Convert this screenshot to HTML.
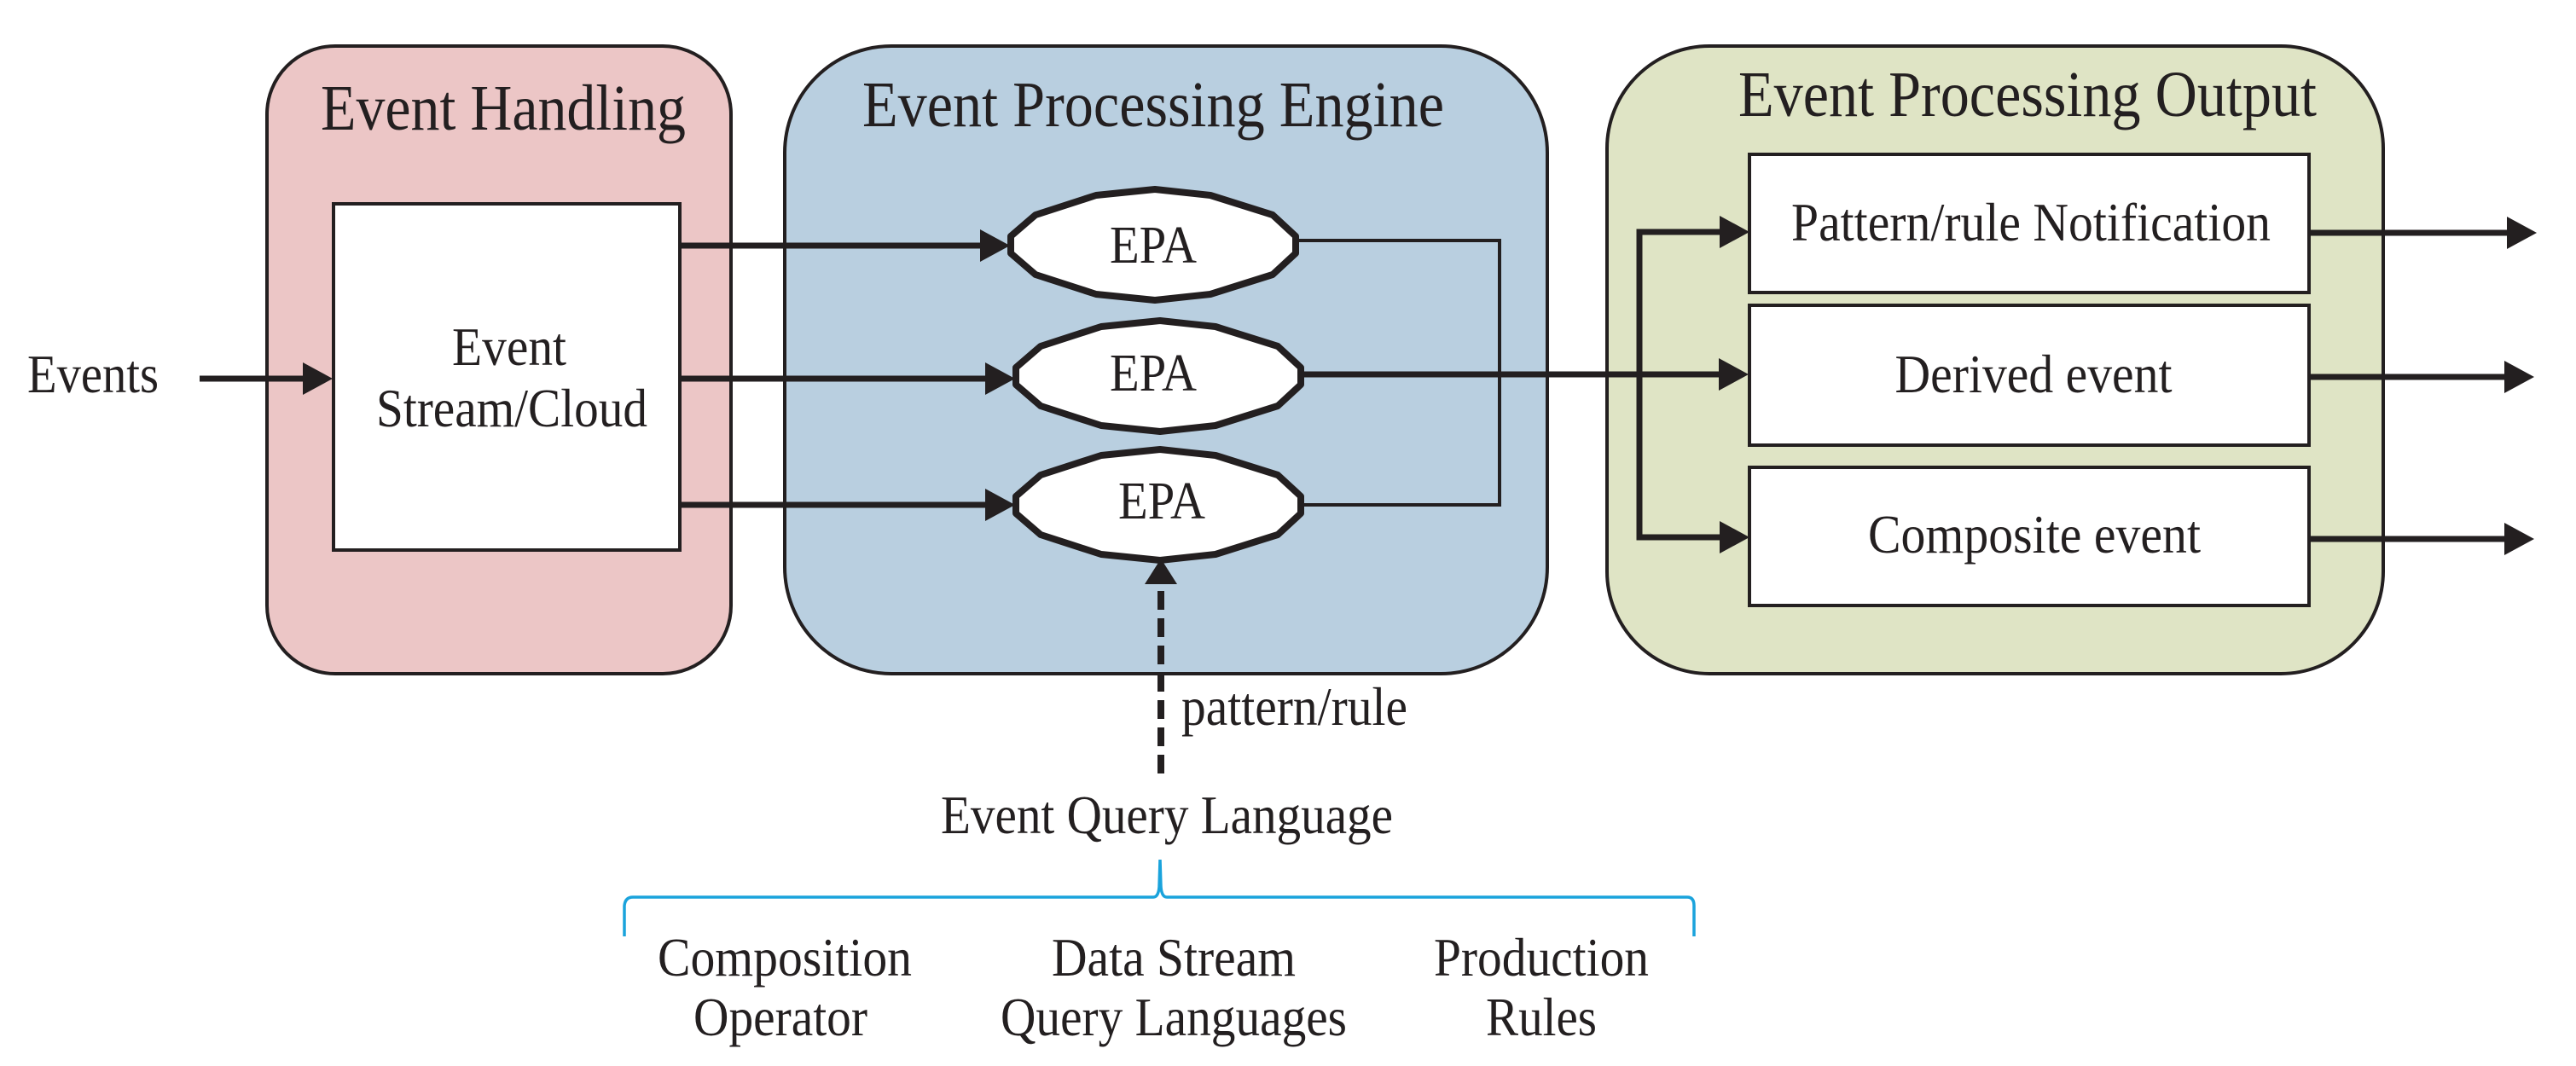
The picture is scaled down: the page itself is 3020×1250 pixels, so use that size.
<!DOCTYPE html>
<html><head><meta charset="utf-8"><style>
html,body{margin:0;padding:0;background:#fff;}
svg{display:block;}
text{font-family:"Liberation Serif",serif;fill:#231f20;}
</style></head><body>
<svg width="3020" height="1250" viewBox="0 0 3020 1250" xmlns="http://www.w3.org/2000/svg">
<defs>
<marker id="ah" markerWidth="36" markerHeight="38" refX="1" refY="19" orient="auto" markerUnits="userSpaceOnUse">
<path d="M0,0 L35,19 L0,38 Z" fill="#231f20"/>
</marker>
</defs>
<rect x="313" y="54" width="544" height="736" rx="80" ry="80" fill="#ecc6c6" stroke="#231f20" stroke-width="4"/>
<rect x="920" y="54" width="894" height="736" rx="125" ry="125" fill="#b9cfe0" stroke="#231f20" stroke-width="4"/>
<rect x="1884" y="54" width="910" height="736" rx="120" ry="120" fill="#dfe4c5" stroke="#231f20" stroke-width="4"/>

<text x="376" y="152" font-size="76" textLength="428" lengthAdjust="spacingAndGlyphs">Event Handling</text>
<text x="1011" y="148" font-size="76" textLength="682" lengthAdjust="spacingAndGlyphs">Event Processing Engine</text>
<text x="2038" y="136" font-size="76" textLength="678" lengthAdjust="spacingAndGlyphs">Event Processing Output</text>

<rect x="391" y="239" width="406" height="406" fill="#fff" stroke="#231f20" stroke-width="4"/>
<text x="597" y="428" font-size="64" text-anchor="middle" textLength="134" lengthAdjust="spacingAndGlyphs">Event</text>
<text x="600" y="500" font-size="64" text-anchor="middle" textLength="318" lengthAdjust="spacingAndGlyphs">Stream/Cloud</text>

<text x="32" y="460" font-size="64" textLength="154" lengthAdjust="spacingAndGlyphs">Events</text>
<line x1="234" y1="444" x2="356" y2="444" stroke="#231f20" stroke-width="7" marker-end="url(#ah)"/>

<line x1="797" y1="288" x2="1150" y2="288" stroke="#231f20" stroke-width="7" marker-end="url(#ah)"/>
<line x1="797" y1="444" x2="1156" y2="444" stroke="#231f20" stroke-width="7" marker-end="url(#ah)"/>
<line x1="797" y1="592" x2="1156" y2="592" stroke="#231f20" stroke-width="7" marker-end="url(#ah)"/>

<polyline points="1517,282 1758,282 1758,592 1525,592" fill="none" stroke="#231f20" stroke-width="4"/>
<line x1="1525" y1="439" x2="2016" y2="439" stroke="#231f20" stroke-width="7" marker-end="url(#ah)"/>

<g fill="#fff" stroke="#231f20" stroke-width="8" stroke-linejoin="round">
<polygon transform="translate(1185,287)" points="0,-10 29,-35 100,-58 169,-65 234,-58 307,-35 334,-10 334,10 307,35 234,58 169,65 100,58 29,35 0,10"/>
<polygon transform="translate(1191,441)" points="0,-10 29,-35 100,-58 169,-65 234,-58 307,-35 334,-10 334,10 307,35 234,58 169,65 100,58 29,35 0,10"/>
<polygon transform="translate(1191,592)" points="0,-10 29,-35 100,-58 169,-65 234,-58 307,-35 334,-10 334,10 307,35 234,58 169,65 100,58 29,35 0,10"/>
</g>
<text x="1352" y="308" font-size="62" text-anchor="middle" textLength="102" lengthAdjust="spacingAndGlyphs">EPA</text>
<text x="1352" y="458" font-size="62" text-anchor="middle" textLength="102" lengthAdjust="spacingAndGlyphs">EPA</text>
<text x="1362" y="608" font-size="62" text-anchor="middle" textLength="102" lengthAdjust="spacingAndGlyphs">EPA</text>

<line x1="1361" y1="907" x2="1361" y2="685" stroke="#231f20" stroke-width="8" stroke-dasharray="22,10"/>
<path d="M1342,685 L1361,655 L1380,685 Z" fill="#231f20"/>
<text x="1385" y="850" font-size="64" textLength="265" lengthAdjust="spacingAndGlyphs">pattern/rule</text>
<text x="1103" y="977" font-size="64" textLength="530" lengthAdjust="spacingAndGlyphs">Event Query Language</text>

<path d="M732,1098 L732,1062 Q733,1052 742,1052 L1352,1052 Q1358,1052 1359,1040 L1360,1008 M1360,1008 L1361,1040 Q1362,1052 1368,1052 L1978,1052 Q1986,1052 1986,1062 L1986,1098" fill="none" stroke="#1aa3dc" stroke-width="3.5"/>

<text x="920" y="1144" font-size="64" text-anchor="middle" textLength="298" lengthAdjust="spacingAndGlyphs">Composition</text>
<text x="915" y="1214" font-size="64" text-anchor="middle" textLength="204" lengthAdjust="spacingAndGlyphs">Operator</text>
<text x="1376" y="1144" font-size="64" text-anchor="middle" textLength="286" lengthAdjust="spacingAndGlyphs">Data Stream</text>
<text x="1376" y="1214" font-size="64" text-anchor="middle" textLength="406" lengthAdjust="spacingAndGlyphs">Query Languages</text>
<text x="1807" y="1144" font-size="64" text-anchor="middle" textLength="252" lengthAdjust="spacingAndGlyphs">Production</text>
<text x="1807" y="1214" font-size="64" text-anchor="middle" textLength="130" lengthAdjust="spacingAndGlyphs">Rules</text>

<polyline points="2020,272 1922,272 1922,630 2020,630" fill="none" stroke="#231f20" stroke-width="7"/>
<path d="M2016,253 L2051,272 L2016,291 Z" fill="#231f20"/>
<path d="M2016,611 L2051,630 L2016,649 Z" fill="#231f20"/>

<rect x="2051" y="181" width="656" height="162" fill="#fff" stroke="#231f20" stroke-width="4"/>
<rect x="2051" y="358" width="656" height="164" fill="#fff" stroke="#231f20" stroke-width="4"/>
<rect x="2051" y="548" width="656" height="162" fill="#fff" stroke="#231f20" stroke-width="4"/>
<text x="2381" y="282" font-size="64" text-anchor="middle" textLength="562" lengthAdjust="spacingAndGlyphs">Pattern/rule Notification</text>
<text x="2384" y="460" font-size="64" text-anchor="middle" textLength="325" lengthAdjust="spacingAndGlyphs">Derived event</text>
<text x="2385" y="648" font-size="64" text-anchor="middle" textLength="390" lengthAdjust="spacingAndGlyphs">Composite event</text>

<line x1="2707" y1="273" x2="2940" y2="273" stroke="#231f20" stroke-width="7" marker-end="url(#ah)"/>
<line x1="2707" y1="442" x2="2937" y2="442" stroke="#231f20" stroke-width="7" marker-end="url(#ah)"/>
<line x1="2707" y1="632" x2="2937" y2="632" stroke="#231f20" stroke-width="7" marker-end="url(#ah)"/>
</svg>
</body></html>
